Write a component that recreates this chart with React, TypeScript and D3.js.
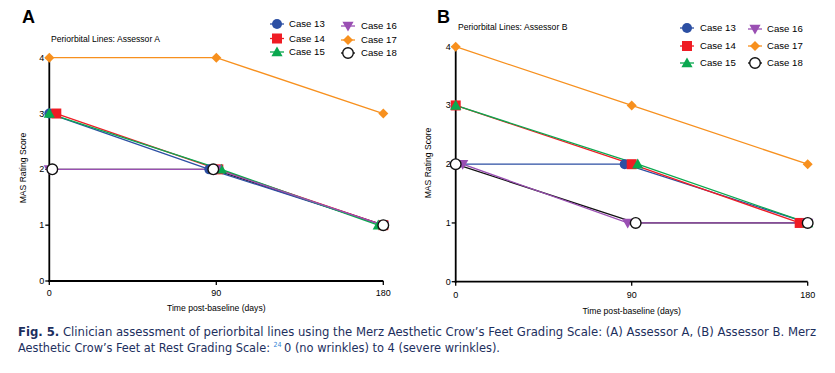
import React from "react";
import * as d3 from "d3";

// ---------- data ----------
const days = [0, 90, 180];
const xTicks = [0, 90, 180];
const yTicks = [0, 1, 2, 3, 4];
const caseNames = ["Case 13", "Case 14", "Case 15", "Case 16", "Case 17", "Case 18"];

const assessorA13 = [3, 2, 1];
const assessorA14 = [3, 2, 1];
const assessorA15 = [3, 2, 1];
const assessorA16 = [2, 2, 1];
const assessorA17 = [4, 4, 3];
const assessorA18 = [2, 2, 1];

const assessorB13 = [2, 2, 1];
const assessorB14 = [3, 2, 1];
const assessorB15 = [3, 2, 1];
const assessorB16 = [2, 1, 1];
const assessorB17 = [4, 3, 2];
const assessorB18 = [2, 1, 1];

// ---------- styles ----------
const colors = ["#2c4fa3", "#ef1c24", "#0aa84f", "#9a4fb3", "#f7901e", "#111111"];
const symbols = ["circle", "square", "triangle", "triangleDown", "diamond", "openCircle"];
const lineOrder = [5, 0, 1, 2, 3, 4];
const AX = "Liberation Sans, Arial, Helvetica, sans-serif";

type PanelCfg = {
  letter: string;
  title: string;
  series: number[][];
  nudge: number[][];
  x0: number; x1: number; yTop: number; yBot: number;
  letterX: number; letterY: number;
  titleX: number; titleY: number;
  legendCols: { mx: number; tx: number; ys: number[] }[];
  yLabelX: number; yLabelY: number;
  xLabelY: number;
  tickLabelY: number;
};

const panels: PanelCfg[] = [
  {
    letter: "A",
    title: "Periorbital Lines: Assessor A",
    series: [assessorA13, assessorA14, assessorA15, assessorA16, assessorA17, assessorA18],
    nudge: [[0, -7, 0], [7, 2, 0], [0, 5, -5], [0, 0, 0], [0, 0, 0], [3, -3, 0]],
    x0: 49.3, x1: 383.3, yTop: 57.7, yBot: 281,
    letterX: 22, letterY: 23,
    titleX: 51, titleY: 42,
    legendCols: [
      { mx: 277, tx: 289, ys: [24, 38.5, 52] },
      { mx: 348, tx: 361, ys: [26, 40, 53] },
    ],
    yLabelX: 23, yLabelY: 168,
    xLabelY: 311,
    tickLabelY: 296,
  },
  {
    letter: "B",
    title: "Periorbital Lines: Assessor B",
    series: [assessorB13, assessorB14, assessorB15, assessorB16, assessorB17, assessorB18],
    nudge: [[0, -7, 0], [0, 0, -8], [0, 6, 0], [7, -4, 0], [0, 0, 0], [0, 4, 0]],
    x0: 455.7, x1: 807.7, yTop: 46.7, yBot: 281.7,
    letterX: 437, letterY: 23,
    titleX: 458, titleY: 30,
    legendCols: [
      { mx: 687, tx: 700, ys: [28, 46, 63] },
      { mx: 755, tx: 767, ys: [29, 46, 63] },
    ],
    yLabelX: 428, yLabelY: 163,
    xLabelY: 314,
    tickLabelY: 298,
  },
];

function Marker({ kind, x, y, color }: { kind: string; x: number; y: number; color: string }) {
  switch (kind) {
    case "circle":
      return <circle cx={x} cy={y} r={5} fill={color} />;
    case "square":
      return <rect x={x - 5} y={y - 5} width={10} height={10} fill={color} />;
    case "triangle": {
      const s = 5.6;
      return <path d={`M${x},${y - s}L${x + s},${y + s * 0.75}L${x - s},${y + s * 0.75}Z`} fill={color} />;
    }
    case "triangleDown": {
      const s = 5.6;
      return <path d={`M${x},${y + s}L${x + s},${y - s * 0.75}L${x - s},${y - s * 0.75}Z`} fill={color} />;
    }
    case "diamond": {
      const s = 5;
      return <path d={`M${x},${y - s}L${x + s},${y}L${x},${y + s}L${x - s},${y}Z`} fill={color} />;
    }
    default:
      return <circle cx={x} cy={y} r={5.3} fill="#fff" stroke={color} strokeWidth={1.4} />;
  }
}

function Panel({ p }: { p: PanelCfg }) {
  const x = d3.scaleLinear().domain([0, 180]).range([p.x0, p.x1]);
  const y = d3.scaleLinear().domain([0, 4]).range([p.yBot, p.yTop]);
  const line = d3
    .line<[number, number]>()
    .x((d) => d[0])
    .y((d) => d[1]);

  const pts = p.series.map((vals, si) =>
    vals.map((v, i) => [x(days[i]) + p.nudge[si][i], y(v)] as [number, number])
  );

  return (
    <g>
      <text x={p.letterX} y={p.letterY} fontFamily={AX} fontWeight="bold" fontSize={18} fill="#000">
        {p.letter}
      </text>
      <text x={p.titleX} y={p.titleY} fontFamily={AX} fontSize={8.6} fill="#000">
        {p.title}
      </text>

      {/* axes */}
      <line x1={p.x0} x2={p.x0} y1={p.yTop - 0.5} y2={p.yBot + 1} stroke="#000" strokeWidth={1.8} />
      <line x1={p.x0 - 1} x2={p.x1} y1={p.yBot} y2={p.yBot} stroke="#000" strokeWidth={1.8} />
      {yTicks.map((t) => (
        <g key={"y" + t}>
          <line x1={p.x0 - 4} x2={p.x0} y1={y(t)} y2={y(t)} stroke="#000" strokeWidth={1.3} />
          <text x={p.x0 - 5} y={y(t) + 3} textAnchor="end" fontFamily={AX} fontSize={9} fill="#000">
            {t}
          </text>
        </g>
      ))}
      {xTicks.map((t) => (
        <g key={"x" + t}>
          <line x1={x(t)} x2={x(t)} y1={p.yBot} y2={p.yBot + 4} stroke="#000" strokeWidth={1.3} />
          <text x={x(t)} y={p.tickLabelY} textAnchor="middle" fontFamily={AX} fontSize={9} fill="#000">
            {t}
          </text>
        </g>
      ))}
      <text
        transform={`translate(${p.yLabelX},${p.yLabelY}) rotate(-90)`}
        textAnchor="middle"
        dy="0.35em"
        fontFamily={AX}
        fontSize={8.6}
        fill="#000"
      >
        MAS Rating Score
      </text>
      <text x={(p.x0 + p.x1) / 2} y={p.xLabelY} textAnchor="middle" fontFamily={AX} fontSize={8.6} fill="#000">
        Time post-baseline (days)
      </text>

      {/* lines */}
      {lineOrder.map((si) => (
        <path key={"l" + si} d={line(pts[si]) || ""} fill="none" stroke={colors[si]} strokeWidth={1.3} />
      ))}
      {/* markers */}
      {pts.map((ps, si) =>
        ps.map((pt, i) => (
          <Marker key={"m" + si + "-" + i} kind={symbols[si]} x={pt[0]} y={pt[1]} color={colors[si]} />
        ))
      )}

      {/* legend */}
      {caseNames.map((name, i) => {
        const col = p.legendCols[Math.floor(i / 3)];
        const yy = col.ys[i % 3];
        return (
          <g key={"lg" + i}>
            <line x1={col.mx - 7} x2={col.mx + 7} y1={yy} y2={yy} stroke={colors[i]} strokeWidth={1.3} />
            <Marker kind={symbols[i]} x={col.mx} y={yy} color={colors[i]} />
            <text x={col.tx} y={yy + 3.4} fontFamily={AX} fontSize={9.6} fill="#000">
              {name}
            </text>
          </g>
        );
      })}
    </g>
  );
}

export default function App() {
  const capFont = "'Liberation Sans Narrow', 'DejaVu Sans Condensed', 'Noto Sans', sans-serif";
  const capColor = "#1d2f5e";
  return (
    <svg
      width={835}
      height={373}
      viewBox="0 0 835 373"
      style={{ position: "absolute", left: 0, top: 0, background: "#fff" }}
    >
      <rect width={835} height={373} fill="#fff" />
      {panels.map((p) => (
        <Panel key={p.letter} p={p} />
      ))}
      <text x={18} y={336} fontFamily={capFont} fontSize={13} fill={capColor} textLength={798} lengthAdjust="spacingAndGlyphs">
        <tspan fontWeight="bold">Fig. 5.</tspan>
        <tspan> Clinician assessment of periorbital lines using the Merz Aesthetic Crow’s Feet Grading Scale: (A) Assessor A, (B) Assessor B. Merz</tspan>
      </text>
      <text x={18} y={352} fontFamily={capFont} fontSize={13} fill={capColor} textLength={252} lengthAdjust="spacingAndGlyphs">
        Aesthetic Crow’s Feet at Rest Grading Scale:
      </text>
      <text x={273.5} y={346.5} fontFamily={capFont} fontSize={7} fill="#2f7fd6">
        24
      </text>
      <text x={284} y={352} fontFamily={capFont} fontSize={13} fill={capColor} textLength={216} lengthAdjust="spacingAndGlyphs">
        0 (no wrinkles) to 4 (severe wrinkles).
      </text>
    </svg>
  );
}
